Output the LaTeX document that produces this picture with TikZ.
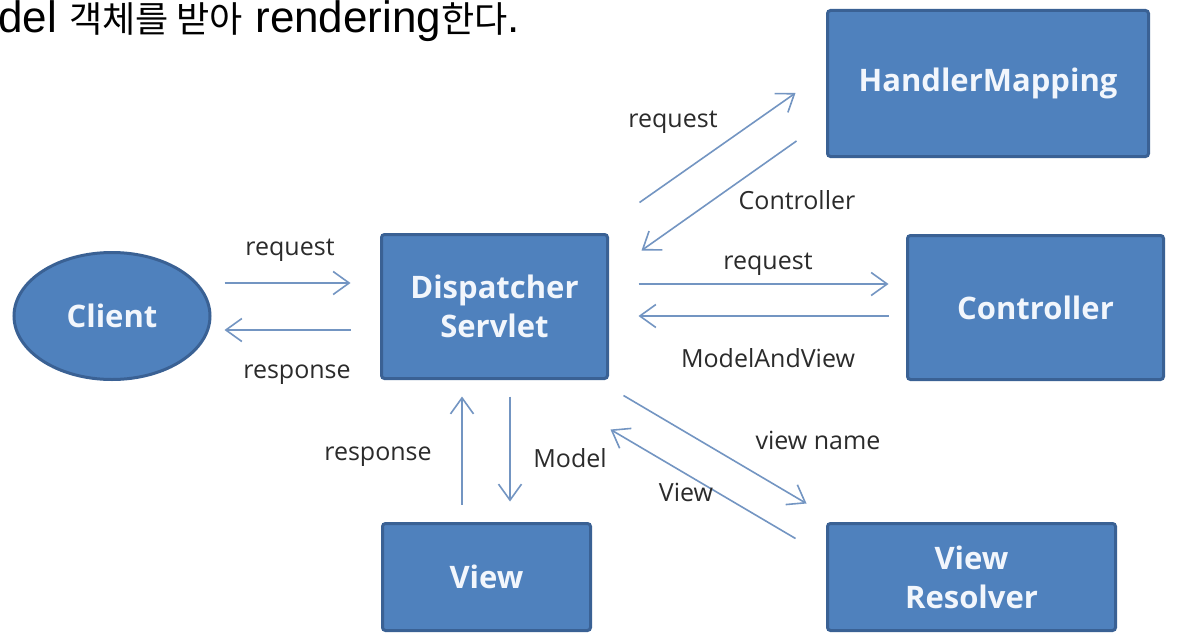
\documentclass[tikz,border=0pt]{standalone}
\usepackage{fontspec}
\setmainfont{Open Sans}
\newfontfamily\capfont{Liberation Sans}
\newfontfamily\kofont{Noto Sans CJK KR}[Scale=0.82]
\usetikzlibrary{arrows.meta,calc,shapes.geometric}
\definecolor{boxfill}{HTML}{4F81BD}
\definecolor{boxline}{HTML}{3A6194}
\definecolor{arrcol}{HTML}{7395C2}
\definecolor{lbl}{HTML}{2B2B2B}
\definecolor{boxtxt}{HTML}{F2F6FC}
\tikzset{
  box/.style={draw=boxline, line width=3pt, fill=boxfill, rounded corners=3pt,
    text=boxtxt, font=\fontsize{31}{39}\selectfont\bfseries, align=center, inner sep=0pt},
  oval/.style={ellipse, draw=boxline, line width=3pt, fill=boxfill,
    text=boxtxt, font=\fontsize{31}{39}\selectfont\bfseries, inner sep=0pt},
  arr/.style={draw=arrcol, line width=1.6pt,
    -{Straight Barb[length=16pt,width=23pt,line width=1.6pt]}},
  lab/.style={text=lbl, font=\fontsize{25}{30}\selectfont, inner sep=0pt}
}
\begin{document}
\begin{tikzpicture}[x=1pt,y=-1pt]
\fill[white] (0,0) rectangle (1180,634);
\useasboundingbox (0,0) rectangle (1180,634);

% caption (cut off at the left edge)
\node[anchor=base west, inner sep=0pt, text=black, font=\capfont\fontsize{44}{50}\selectfont]
  (cap) at (-2,33) {del {\kofont 객체를 받아} rendering{\kofont 한다}.};

% nodes
\node[oval, minimum width=196pt, minimum height=127pt] (cl) at (112,316) {Client};
\node[box, minimum width=226pt, minimum height=144pt] (ds) at (494.5,306.5) {Dispatcher\\Servlet};
\node[box, minimum width=321pt, minimum height=146pt] (hm) at (988,83.5) {HandlerMapping};
\node[box, minimum width=256pt, minimum height=144pt] (ct) at (1035.5,307.5) {Controller};
\node[box, minimum width=208pt, minimum height=107pt] (vw) at (486.5,577) {View};
\node[box, minimum width=288pt, minimum height=107pt] (vr) at (971.5,577) {View\\Resolver};

% client <-> dispatcher
\draw[arr] ($(cl.east)+(13,-33)$) -- ($(ds.west)+(-29.5,-23.5)$);
\draw[arr] ($(ds.west)+(-29.5,23.5)$) -- ($(cl.east)+(13,14)$);
\node[lab] (l1) at (290,250) {request};
\node[lab] (l2) at (297,375) {response};

% dispatcher <-> handler mapping
\draw[arr] ($(ds.north east)+(30.5,-30.5)$) -- ($(hm.west)+(-30.5,9.5)$);
\draw[arr] ($(hm.west)+(-29.5,57.5)$) -- ($(ds.north east)+(32.5,17.5)$);
\node[lab] (l3) at (673,122) {request};
\node[lab] (l4) at (797,200) {Controller};

% dispatcher <-> controller
\draw[arr] ($(ds.east)+(29.5,-22.5)$) -- ($(ct.west)+(-17.5,-23.5)$);
\draw[arr] ($(ct.west)+(-17.5,8.5)$) -- ($(ds.east)+(29.5,9.5)$);
\node[lab] (l5) at (768,264) {request};
\node[lab] (l6) at (768,358) {ModelAndView};

% dispatcher <-> view
\draw[arr] ($(vw.north)+(-24.5,-17.5)$) -- ($(ds.south)+(-32.5,16.5)$);
\draw[arr] ($(ds.south)+(15.5,16.5)$) -- ($(vw.north)+(23.5,-20.5)$);
\node[lab] (l7) at (378,457) {response};
\node[lab] (l8) at (570,458) {Model};

% dispatcher <-> view resolver
\draw[arr] ($(ds.south east)+(14.5,15.5)$) -- ($(vr.north west)+(-19.5,-18.5)$);
\draw[arr] ($(vr.north west)+(-30.5,16.5)$) -- ($(ds.south east)+(1.5,49.5)$);
\node[lab] (l9) at (818,440) {view name};
\node[lab] (l10) at (686,492) {View};
\end{tikzpicture}
\end{document}
